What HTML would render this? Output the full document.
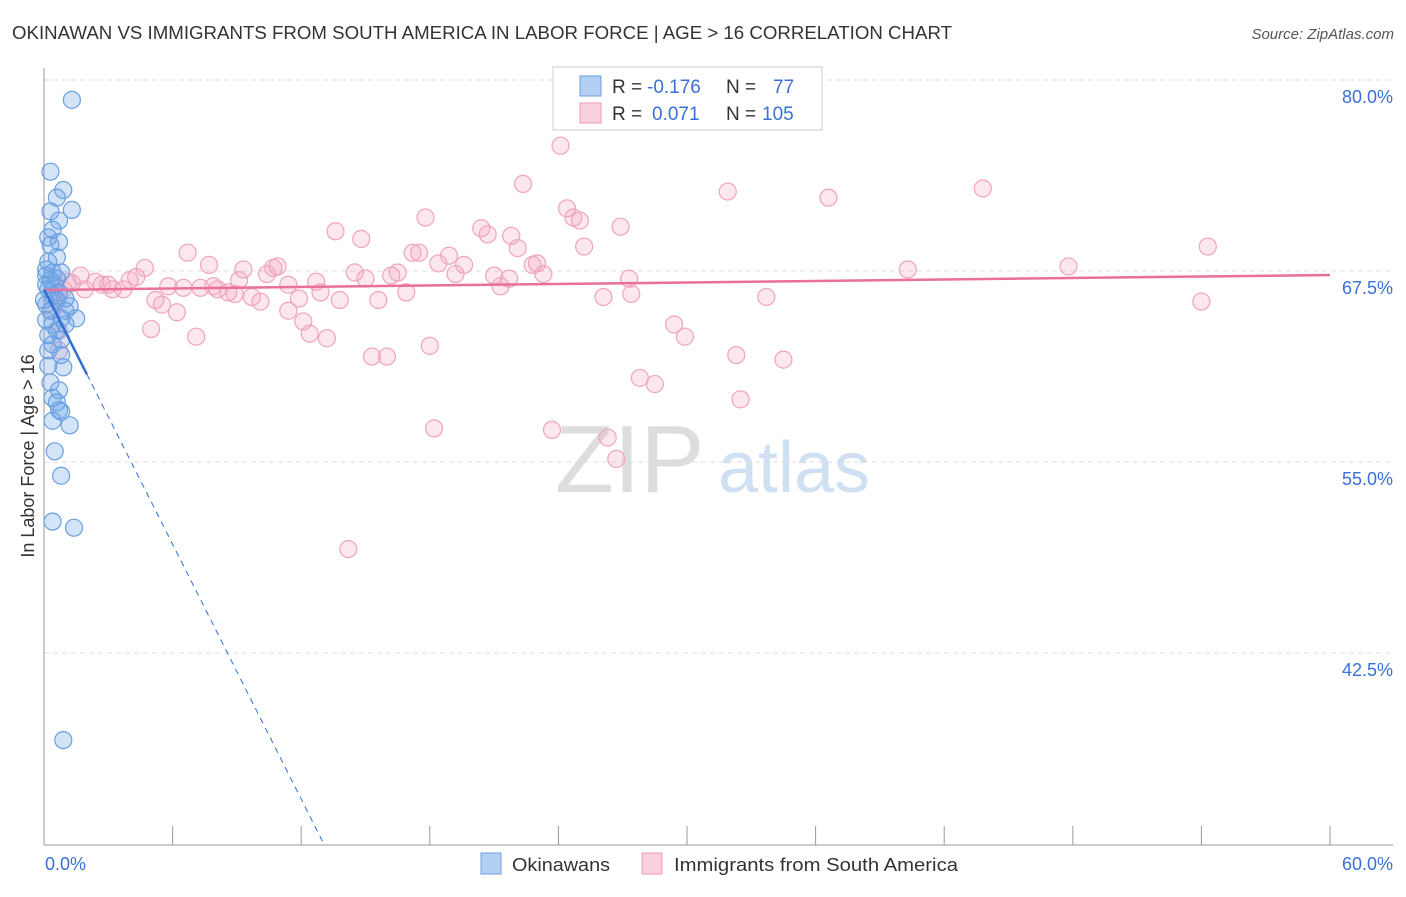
<!DOCTYPE html>
<html><head><meta charset="utf-8"><style>
body{margin:0;background:#fff;font-family:"Liberation Sans",sans-serif;}
svg text{font-family:"Liberation Sans",sans-serif;}
</style></head><body>
<svg id="chart" width="1406" height="892" viewBox="0 0 1406 892" xmlns="http://www.w3.org/2000/svg">
<text x="12" y="39" font-size="18" fill="#333" textLength="940" lengthAdjust="spacingAndGlyphs">OKINAWAN VS IMMIGRANTS FROM SOUTH AMERICA IN LABOR FORCE | AGE &gt; 16 CORRELATION CHART</text>
<text x="1394" y="39" font-size="15" fill="#555" text-anchor="end" font-style="italic">Source: ZipAtlas.com</text>
<g>
<text x="555" y="492" font-size="96" fill="#ddd" font-family="Liberation Serif, serif">ZIP</text>
<text x="718" y="492" font-size="72" fill="#cfe0f3">atlas</text>
</g>
<g id="grid"></g>
<g id="axes"></g>
<g id="pts"></g>
<g id="lines"></g>
<text transform="translate(34,456) rotate(-90)" font-size="18" fill="#333" text-anchor="middle">In Labor Force | Age &gt; 16</text>
<text x="45" y="870" font-size="18" fill="#3a6fd8">0.0%</text>
<text x="1393" y="870" font-size="18" fill="#3a6fd8" text-anchor="end">60.0%</text>
<g>
<rect x="553" y="67" width="269" height="63" fill="#fff" stroke="#ccc"/>
<rect x="580" y="76" width="21" height="20" fill="#b3d0f3" stroke="#6a9fe0"/>
<rect x="580" y="103" width="21" height="20" fill="#fbd0dd" stroke="#ef9ab8"/>
<text x="612" y="93" font-size="19" fill="#333">R =</text>
<text x="647" y="93" font-size="19" fill="#3a6fd8">-0.176</text>
<text x="726" y="93" font-size="19" fill="#333">N =</text>
<text x="773" y="93" font-size="19" fill="#3a6fd8">77</text>
<text x="612" y="120" font-size="19" fill="#333">R =</text>
<text x="652" y="120" font-size="19" fill="#3a6fd8">0.071</text>
<text x="726" y="120" font-size="19" fill="#333">N =</text>
<text x="762" y="120" font-size="19" fill="#3a6fd8">105</text>
</g>
<g>
<rect x="481" y="853" width="20" height="21" fill="#b3d0f3" stroke="#6a9fe0"/>
<text x="512" y="871" font-size="18" fill="#333" textLength="98" lengthAdjust="spacingAndGlyphs">Okinawans</text>
<rect x="642" y="853" width="20" height="21" fill="#fbd0dd" stroke="#ef9ab8"/>
<text x="674" y="871" font-size="18" fill="#333" textLength="284" lengthAdjust="spacingAndGlyphs">Immigrants from South America</text>
</g>
</svg>
<script>
const yTicks=[80,67.5,55,42.5];
const yTickLabels=["80.0%","67.5%","55.0%","42.5%"];
const xTicks=[0,6,12,18,24,30,36,42,48,54,60];
const blueX=[1.3,0.3,0.9,0.6,1.3,0.3,0.7,0.4,0.2,0.7,0.3,0.6,0.1,0.4,0.8,0.1,0.3,0.5,0.2,0.4,0.6,0.1,0.3,1.0,0.8,1.5,1.2,0.4,0.6,1.0,0.2,0.8,0.4,0.2,0.8,0.9,0.2,0.3,0.7,0.4,0.6,0.7,0.8,0.4,1.2,0.5,0.8,0.4,1.4,0.9,0.1,0.0,0.1,0.2,0.6,0.7,1.0];
const blueY=[78.7,74.0,72.8,72.3,71.5,71.4,70.8,70.2,69.7,69.4,69.2,68.4,67.6,67.4,67.4,67.2,66.9,66.6,66.3,65.9,65.6,65.3,64.9,64.9,64.4,64.4,65.2,64.0,63.6,64.0,63.3,63.0,62.7,62.3,62.0,61.2,61.3,60.2,59.7,59.2,58.9,58.4,58.3,57.7,57.4,55.7,54.1,51.1,50.7,36.8,64.3,65.6,66.6,68.1,67.0,66.1,65.7];
const pinkX=[24.1,22.35,31.9,36.6,43.8,24.4,24.7,25.0,17.8,26.9,20.4,20.7,13.6,14.8,21.8,22.1,25.2,54.3,6.7,17.2,17.5,18.9,23.0,22.8,18.4,19.6,23.3,19.2,21.0,21.7,7.7,4.7,1.7,4.3,4.0,9.3,10.7,10.9,10.4,9.1,16.5,16.2,14.5,15.0,27.3,40.3,47.8,12.9,12.7,11.4,5.8,6.5,7.3,8.1,7.9,8.6,8.9,9.7,10.1,11.9,13.8,15.6,16.9,21.3,27.4,26.1,33.7,54.0,5.2,5.5,6.2,11.4,12.1,12.4,13.2,5.0,7.1,29.4,29.9,15.3,16.0,18.0,32.3,34.5,27.8,28.5,32.5,18.2,23.7,26.3,26.7,14.2,1.3,2.4,2.7,3.2,3.7,0.9,0.7,1.1,1.9,3.0,0.6,0.7,0.7,0.4];
const pinkY=[75.7,73.2,72.7,72.3,72.9,71.6,71.0,70.8,71.0,70.4,70.3,69.9,70.1,69.6,69.8,69.0,69.1,69.1,68.7,68.7,68.7,68.5,68.0,67.9,68.0,67.9,67.3,67.3,67.2,67.0,67.9,67.7,67.2,67.1,66.9,67.6,67.7,67.8,67.3,66.9,67.4,67.2,67.4,67.0,67.0,67.6,67.8,66.1,66.8,66.6,66.5,66.4,66.4,66.3,66.5,66.1,66.0,65.8,65.5,65.7,65.6,65.6,66.1,66.5,66.0,65.8,65.8,65.5,65.6,65.3,64.8,64.9,64.2,63.4,63.1,63.7,63.2,64.0,63.2,61.9,61.9,62.6,62.0,61.7,60.5,60.1,59.1,57.2,57.1,56.6,55.2,49.3,66.7,66.8,66.6,66.3,66.3,66.3,65.9,66.8,66.3,66.6,65.6,63.6,62.3,64.9];
const blueTrend=[66.3,-2.78];
const pinkTrend=[66.26,0.0163];
const NS="http://www.w3.org/2000/svg";
const X=v=>44+v*(1286/60);
const Y=v=>80+(80-v)*(191/12.5);
function mk(tag,attrs,parent){const e=document.createElementNS(NS,tag);for(const k in attrs)e.setAttribute(k,attrs[k]);parent.appendChild(e);return e;}
const grid=document.getElementById('grid'),axes=document.getElementById('axes'),pts=document.getElementById('pts'),lines=document.getElementById('lines');
yTicks.forEach((t,i)=>{
 const l=mk('line',{x1:44,x2:1393,y1:Y(t),y2:Y(t),stroke:'#ddd','stroke-dasharray':'5,4'},grid);
 
 
 const tx=mk('text',{x:1393,y:Y(t)+23,'font-size':18,fill:'#3a6fd8','text-anchor':'end'},grid);
 tx.textContent=yTickLabels[i];
 
 
});
const ya=mk('line',{x1:44,x2:44,y1:68,y2:845,stroke:'#999'},axes);


const xa=mk('line',{x1:44,x2:1393,y1:845,y2:845,stroke:'#999'},axes);


xTicks.forEach(t=>{
 const l=mk('line',{x1:X(t),x2:X(t),y1:826,y2:845,stroke:'#999'},axes);
 
 
});
pinkX.forEach((x,i)=>{
 const c=mk('circle',{cx:X(x),cy:Y(pinkY[i]),r:8.5,fill:'rgba(242,160,188,0.25)',stroke:'#f0a3bf','stroke-width':1.2},pts);
 
 
});
blueX.forEach((x,i)=>{
 const c=mk('circle',{cx:X(x),cy:Y(blueY[i]),r:8.5,fill:'rgba(110,165,232,0.3)',stroke:'#6a9fe0','stroke-width':1.2},pts);
 
 
});
const pl=mk('line',{x1:X(0),y1:Y(pinkTrend[0]),x2:X(60),y2:Y(pinkTrend[0]+pinkTrend[1]*60),stroke:'#e8709a','stroke-width':2.5},lines);


const bs=mk('line',{x1:X(0),y1:Y(blueTrend[0]),x2:X(2),y2:Y(blueTrend[0]+blueTrend[1]*2),stroke:'#2f6fd6','stroke-width':2.5},lines);


const xe=(30-blueTrend[0])/blueTrend[1];
const bd=mk('line',{x1:X(2),y1:Y(blueTrend[0]+blueTrend[1]*2),x2:X(xe),y2:Y(30),stroke:'#2f6fd6','stroke-width':1,'stroke-dasharray':'6,5'},lines);


</script>
</body></html>
